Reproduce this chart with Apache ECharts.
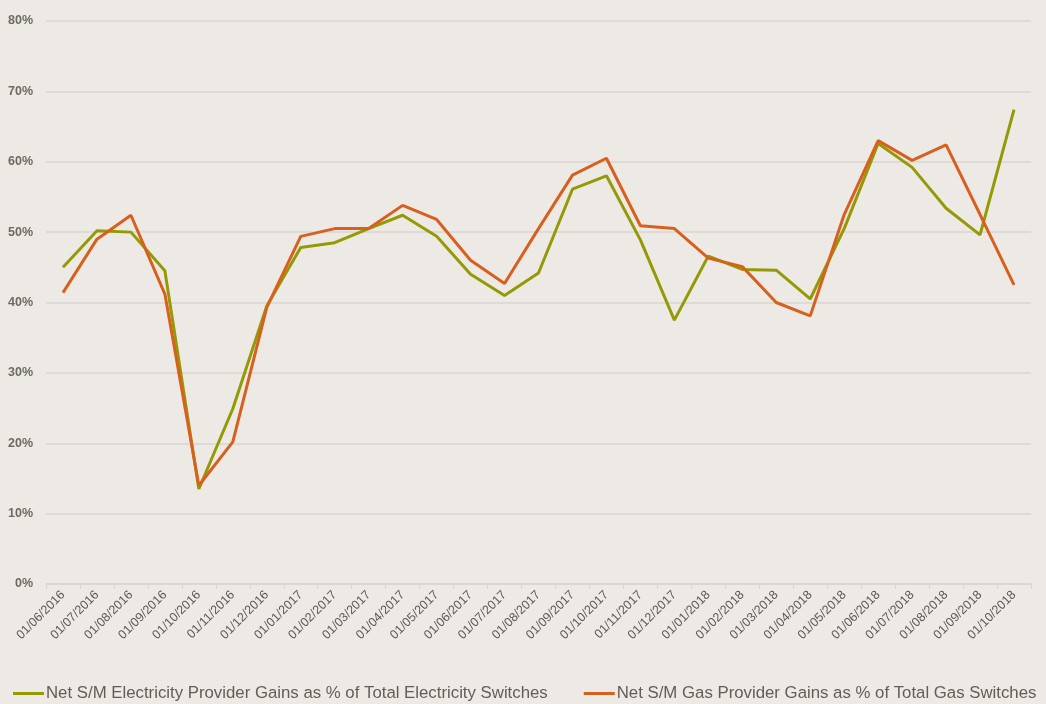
<!DOCTYPE html>
<html>
<head>
<meta charset="utf-8">
<script src="https://cdn.jsdelivr.net/npm/echarts@6/dist/echarts.min.js"></script>
<style>html,body{margin:0;padding:0;background:#EDEAE5;}#c{width:1046px;height:704px;}</style>
</head>
<body>
<div id="c"></div>
<script>
const categories = ["01/06/2016","01/07/2016","01/08/2016","01/09/2016","01/10/2016","01/11/2016","01/12/2016","01/01/2017","01/02/2017","01/03/2017","01/04/2017","01/05/2017","01/06/2017","01/07/2017","01/08/2017","01/09/2017","01/10/2017","01/11/2017","01/12/2017","01/01/2018","01/02/2018","01/03/2018","01/04/2018","01/05/2018","01/06/2018","01/07/2018","01/08/2018","01/09/2018","01/10/2018"];
const electricity = [45.0,50.2,50.0,44.5,13.5,24.9,39.5,47.8,48.5,50.5,52.4,49.4,44.0,41.0,44.2,56.1,58.0,48.9,37.5,46.6,44.7,44.6,40.5,50.5,62.6,59.2,53.4,49.6,67.4];
const gas = [41.4,49.0,52.4,41.2,14.0,20.2,39.3,49.4,50.5,50.5,53.8,51.8,46.0,42.7,50.5,58.1,60.5,50.9,50.5,46.3,45.1,40.0,38.1,52.5,63.0,60.2,62.4,52.5,42.5];
const seriesNames = ["Net S/M Electricity Provider Gains as % of Total Electricity Switches","Net S/M Gas Provider Gains as % of Total Gas Switches"];
const colors = ["#949A05","#D8601E"];

const chart = echarts.init(document.getElementById('c'), null, {renderer:'canvas'});
chart.setOption({
  backgroundColor:'#EDEAE5',
  animation:false,
  grid:{left:46,right:15,top:21,bottom:120,containLabel:false},
  legend:{
    bottom:2,left:13,width:1200,padding:0,
    itemWidth:31,itemHeight:3,itemGap:36,icon:'rect',
    textStyle:{fontFamily:'Liberation Sans, Arial, sans-serif',fontSize:16.8,color:'#5f5f55',padding:[0,0,0,-3]},
    data:seriesNames
  },
  xAxis:{
    type:'category',data:categories,boundaryGap:true,
    axisLine:{lineStyle:{color:'#D9D5CF',width:1.5}},
    axisTick:{show:true,interval:0,length:5,lineStyle:{color:'#D9D5CF'}},
    axisLabel:{interval:0,rotate:45,fontFamily:'Liberation Sans, Arial, sans-serif',fontSize:12.5,color:'#5a5a52',margin:9}
  },
  yAxis:{
    type:'value',min:0,max:80,interval:10,
    axisLine:{show:false},axisTick:{show:false},
    splitLine:{lineStyle:{color:'#D9D5CF',width:1.5}},
    axisLabel:{formatter:'{value}%',fontFamily:'Liberation Sans, Arial, sans-serif',fontSize:12.5,fontWeight:'bold',color:'#6b6b60',margin:13}
  },
  series:[
    {name:seriesNames[0],type:'line',data:electricity,showSymbol:false,symbol:'none',lineStyle:{color:colors[0],width:3},itemStyle:{color:colors[0]}},
    {name:seriesNames[1],type:'line',data:gas,showSymbol:false,symbol:'none',lineStyle:{color:colors[1],width:3},itemStyle:{color:colors[1]}}
  ]
});
</script>
</body>
</html>
